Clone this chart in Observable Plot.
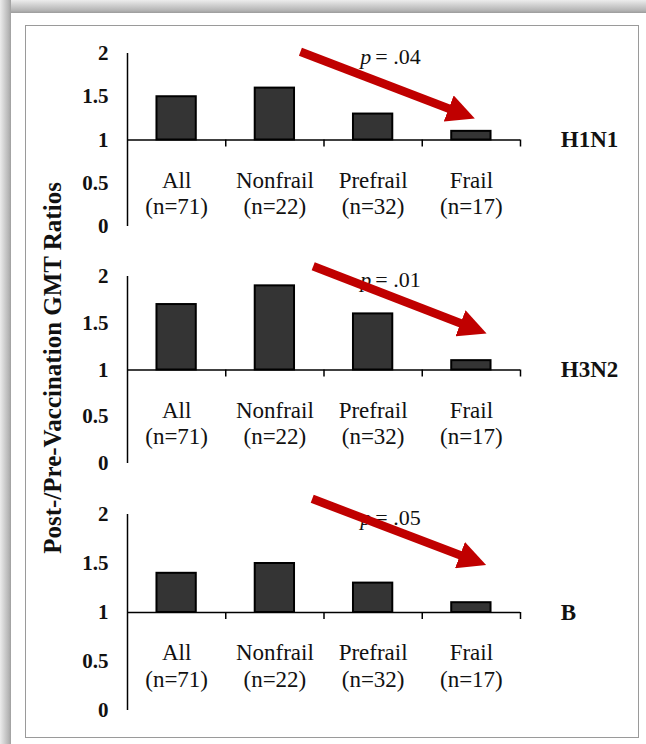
<!DOCTYPE html>
<html>
<head>
<meta charset="utf-8">
<script src="https://cdn.jsdelivr.net/npm/d3@7"></script>
<script src="https://cdn.jsdelivr.net/npm/@observablehq/plot@0.6"></script>
<style>
html, body { margin: 0; padding: 0; background: #fff; }
#frame { position: relative; width: 646px; height: 744px; overflow: hidden; background: #fff;
  font-family: "Liberation Serif", "Times New Roman", serif; color: #111; }
#shadowTop { position: absolute; left: 0; top: 0; width: 646px; height: 13px;
  background: linear-gradient(to bottom, #ececec, #b4b4b4 80%, #9c9c9c); }
#shadowLeft { position: absolute; left: 0; top: 0; width: 11px; height: 744px;
  background: linear-gradient(to right, #ececec, #b4b4b4 80%, #a0a0a0); }
#inner { position: absolute; left: 25px; top: 25px; width: 612px; height: 711px; border: 1px solid #9a9a9a; }
.panel { position: absolute; left: 0; }
#ytitle { position: absolute; left: 53px; top: 368px; transform: translate(-50%, -50%) rotate(-90deg);
  white-space: nowrap; font-weight: bold; font-size: 25px; }
</style>
</head>
<body>
<div id="frame">
  <div id="shadowTop"></div>
  <div id="shadowLeft"></div>
  <div id="inner"></div>
  <div id="ytitle">Post-/Pre-Vaccination GMT Ratios</div>
</div>
<script>
// ---- data ----
const categories = ["All", "Nonfrail", "Prefrail", "Frail"];
const groupSizes = [71, 22, 32, 17];
const strains = ["H1N1", "H3N2", "B"];
const h1n1Ratios = [1.5, 1.6, 1.3, 1.1];
const h3n2Ratios = [1.7, 1.9, 1.6, 1.1];
const bRatios = [1.4, 1.5, 1.3, 1.1];
const pValues = [".04", ".01", ".05"];
const yTicks = [0, 0.5, 1, 1.5, 2];
// trend arrows (data units: x in category slots, y in ratio)
const arrowStartX = [1.76, 1.89, 1.88];
const arrowStartY = [2.02, 2.11, 2.16];
const arrowEndX = [3.44, 3.56, 3.555];
const arrowEndY = [1.29, 1.43, 1.52];

// ---- layout per panel ----
const panelTops = [13, 236, 474];
const panelInner = [173, 187, 196];
const seriesValues = [h1n1Ratios, h3n2Ratios, bRatios];

const frame = document.getElementById("frame");
const RED = "#c00000";

seriesValues.forEach((values, k) => {
  const rows = categories.map((c, i) => ({category: c, n: groupSizes[i], value: values[i], i}));
  const arrow = {x1: arrowStartX[k], y1: arrowStartY[k], x2: arrowEndX[k], y2: arrowEndY[k]};
  const mt = 40, mb = 10;
  const plot = Plot.plot({
    width: 646,
    height: mt + panelInner[k] + mb,
    marginTop: mt, marginBottom: mb, marginLeft: 127, marginRight: 126,
    style: {background: "transparent", overflow: "visible", fontFamily: "Liberation Serif, Times New Roman, serif", fontSize: "21px", color: "#111"},
    x: {type: "linear", domain: [0, categories.length], axis: null},
    y: {domain: [0, 2]},
    marks: [
      Plot.axisY({ticks: yTicks, tickFormat: d => String(d), tickSize: 0, tickPadding: 19,
        fontSize: 21, fontWeight: "bold", label: null}),
      Plot.rectY(rows, {x1: d => d.i + 0.3, x2: d => d.i + 0.7, y1: 1, y2: "value",
        fill: "#343434", stroke: "#000", strokeWidth: 2}),
      Plot.ruleY([1], {x1: 0, x2: categories.length, stroke: "#000", strokeWidth: 1.5}),
      Plot.ruleX(d3.range(1, categories.length + 1), {y1: 1, y2: 1, insetBottom: -7, stroke: "#000", strokeWidth: 1.5}),
      Plot.ruleX([0], {y1: 0, y2: 2, stroke: "#000", strokeWidth: 1.5}),
      Plot.text(rows, {x: d => d.i + 0.5, y: 1, text: d => `${d.category}\n(n=${d.n})`,
        lineAnchor: "top", dy: 29, lineHeight: 1.15, fontSize: 23, fill: "#111"}),
      Plot.text([strains[k]], {x: 4.41, y: 1, text: d => d, textAnchor: "start",
        fontSize: 23, fontWeight: "bold", fill: "#111"}),
      Plot.text(["p"], {x: 2.37, y: 1.96, text: d => d, textAnchor: "start",
        fontSize: 22, fontStyle: "italic", fill: "#111"}),
      Plot.text([`= ${pValues[k]}`], {x: 2.37, y: 1.96, dx: 15, text: d => d, textAnchor: "start",
        fontSize: 22, fill: "#111"}),
      Plot.link([arrow], {x1: "x1", y1: "y1", x2: "x2", y2: "y2", stroke: RED, strokeWidth: 8.5})
    ]
  });
  // filled triangular arrowhead
  const ns = "http://www.w3.org/2000/svg";
  const defs = document.createElementNS(ns, "defs");
  const marker = document.createElementNS(ns, "marker");
  const id = "head" + k;
  marker.setAttribute("id", id);
  marker.setAttribute("markerUnits", "userSpaceOnUse");
  marker.setAttribute("viewBox", "0 0 28 28");
  marker.setAttribute("refX", "18");
  marker.setAttribute("refY", "14");
  marker.setAttribute("markerWidth", "28");
  marker.setAttribute("markerHeight", "28");
  marker.setAttribute("orient", "auto");
  const path = document.createElementNS(ns, "path");
  path.setAttribute("d", "M0,0L28,14L0,28Z");
  path.setAttribute("fill", RED);
  marker.appendChild(path);
  defs.appendChild(marker);
  plot.insertBefore(defs, plot.firstChild);
  plot.querySelectorAll('g[aria-label="link"] path').forEach(p => p.setAttribute("marker-end", `url(#${id})`));

  const wrap = document.createElement("div");
  wrap.className = "panel";
  wrap.style.top = panelTops[k] + "px";
  wrap.appendChild(plot);
  frame.appendChild(wrap);
});
</script>
</body>
</html>
